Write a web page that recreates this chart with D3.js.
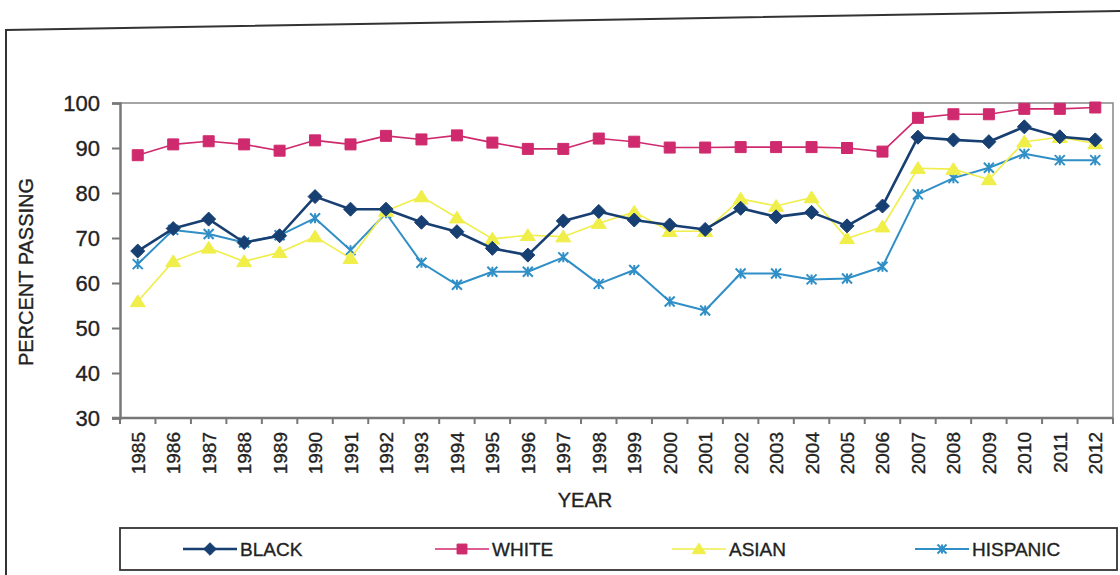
<!DOCTYPE html>
<html><head><meta charset="utf-8">
<script src="https://cdn.jsdelivr.net/npm/d3@7"></script>
<style>
html,body{margin:0;padding:0;background:#fff;}
svg{display:block;font-family:"Liberation Sans",Arial,sans-serif;}
svg text{stroke:#222;stroke-width:0.35px;}
</style></head>
<body>
<svg id="chart" width="1120" height="575"></svg>
<script>
const years = ["1985","1986","1987","1988","1989","1990","1991","1992","1993","1994","1995","1996","1997","1998","1999","2000","2001","2002","2003","2004","2005","2006","2007","2008","2009","2010","2011","2012"];
const black    = [67.1,72.1,74.2,69.0,70.5,79.2,76.4,76.4,73.5,71.4,67.7,66.2,73.8,75.9,74.0,72.9,71.9,76.6,74.7,75.7,72.7,77.1,92.4,91.8,91.4,94.7,92.5,91.8];
const white    = [88.4,90.8,91.5,90.8,89.4,91.7,90.8,92.7,91.9,92.8,91.2,89.8,89.8,92.1,91.4,90.1,90.1,90.2,90.2,90.2,90.0,89.2,96.7,97.5,97.5,98.7,98.7,99.0];
const asian    = [55.9,64.8,67.8,64.8,66.8,70.3,65.5,76.0,79.2,74.5,69.8,70.6,70.3,73.3,75.8,71.5,71.5,78.7,77.1,79.0,69.9,72.5,85.5,85.3,83.0,91.4,92.4,91.0];
const hispanic = [64.2,71.8,70.9,69.0,70.6,74.4,67.3,75.5,64.5,59.6,62.5,62.5,65.7,59.8,62.9,55.9,53.9,62.1,62.1,60.8,61.0,63.6,79.7,83.3,85.6,88.7,87.3,87.3];
const yTicks = [30,40,50,60,70,80,90,100];
const seriesNames = ["BLACK","WHITE","ASIAN","HISPANIC"];

(function(){
const svg = d3.select("#chart");
const pL = 120, pR = 1113, pT = 103, pB = 418;

const x = d3.scaleBand().domain(years).range([pL, pR]);
const y = d3.scaleLinear().domain([30,100]).range([pB, pT]);

// outer scanned frame
svg.append("path").attr("d", "M6,575 L6,30 L1120,11")
  .attr("fill","none").attr("stroke","#333").attr("stroke-width",2);

// plot frame
svg.append("path").attr("d", `M${pL},${pT} L${pR},${pT} L${pR},${pB}`)
  .attr("fill","none").attr("stroke","#888").attr("stroke-width",1.5);

// y axis
const yAxis = svg.append("g").attr("transform",`translate(${pL},0)`)
  .call(d3.axisLeft(y).tickValues(yTicks).tickSize(8).tickPadding(12).tickFormat(d3.format("d")));
yAxis.select(".domain").attr("stroke","#777").attr("stroke-width",2.5);
yAxis.selectAll(".tick line").attr("stroke","#777").attr("stroke-width",2);
yAxis.selectAll(".tick text").attr("font-size",22).attr("fill","#222")
  .attr("font-family","Liberation Sans, Arial, sans-serif");

// x axis
const xAxisG = svg.append("g").attr("transform",`translate(0,${pB})`);
xAxisG.append("line").attr("x1",pL-8).attr("x2",pR).attr("y1",0).attr("y2",0)
  .attr("stroke","#777").attr("stroke-width",2.5);
const bounds = years.map(d => x(d)).concat([pR]);
xAxisG.selectAll("line.tk").data(bounds).enter().append("line").attr("class","tk")
  .attr("x1",d=>d).attr("x2",d=>d).attr("y1",0).attr("y2",6)
  .attr("stroke","#777").attr("stroke-width",2);
xAxisG.selectAll("text.yl").data(years).enter().append("text").attr("class","yl")
  .attr("transform", d => `translate(${x(d)+x.bandwidth()/2+7},14) rotate(-90)`)
  .attr("text-anchor","end").attr("font-size",19).attr("fill","#222").text(d=>d);

// axis titles
svg.append("text").attr("x",585).attr("y",507).attr("text-anchor","middle")
  .attr("font-size",20).attr("fill","#222").text("YEAR");
svg.append("text").attr("transform","translate(33,272) rotate(-90)").attr("text-anchor","middle")
  .attr("font-size",20).attr("fill","#222").text("PERCENT PASSING");

function markerPath(type, s) {
  if (type === "diamond") return `M0,${-s}L${s},0L0,${s}L${-s},0Z`;
  if (type === "square") return `M${-s},${-s}H${s}V${s}H${-s}Z`;
  if (type === "triangle") return `M0,${-s}L${s*1.15},${s*0.8}L${-s*1.15},${s*0.8}Z`;
  if (type === "star") return `M${-s},${-s}L${s},${s}M${-s},${s}L${s},${-s}M0,${-s}L0,${s}`;
}

const series = [
  {name:"HISPANIC", values:hispanic, color:"#2f8fc6", width:2, marker:"star", ms:5},
  {name:"ASIAN", values:asian, color:"#f0ee48", width:1.6, marker:"triangle", ms:6.5},
  {name:"WHITE", values:white, color:"#cf2a6e", width:1.6, marker:"square", ms:5.5},
  {name:"BLACK", values:black, color:"#173f72", width:2.6, marker:"diamond", ms:7}
];

const line = d3.line().x((d,i)=>x(years[i])+x.bandwidth()/2).y(d=>y(d));

series.forEach(s => {
  const g = svg.append("g");
  g.append("path").datum(s.values).attr("d", line)
    .attr("fill","none").attr("stroke",s.color).attr("stroke-width",s.width)
    .attr("stroke-linejoin","round");
  g.selectAll("path.m").data(s.values).enter().append("path").attr("class","m")
    .attr("transform",(d,i)=>`translate(${x(years[i])+x.bandwidth()/2},${y(d)})`)
    .attr("d", markerPath(s.marker, s.ms))
    .attr("fill", s.marker==="star" ? "none" : s.color)
    .attr("stroke", s.color).attr("stroke-width", s.marker==="star" ? 2 : 1);
});

// legend
const lg = svg.append("g");
lg.append("rect").attr("x",120).attr("y",528).attr("width",997).attr("height",42)
  .attr("fill","none").attr("stroke","#333").attr("stroke-width",1.8);
const legendItems = [
  {name:seriesNames[0], s:series[3], x0:183},
  {name:seriesNames[1], s:series[2], x0:435},
  {name:seriesNames[2], s:series[1], x0:672},
  {name:seriesNames[3], s:series[0], x0:915}
];
legendItems.forEach(it => {
  const ly = 549;
  lg.append("line").attr("x1",it.x0).attr("x2",it.x0+54).attr("y1",ly).attr("y2",ly)
    .attr("stroke",it.s.color).attr("stroke-width",it.s.width);
  lg.append("path").attr("transform",`translate(${it.x0+27},${ly})`)
    .attr("d", markerPath(it.s.marker, it.s.ms*0.9))
    .attr("fill", it.s.marker==="star" ? "none" : it.s.color)
    .attr("stroke", it.s.color).attr("stroke-width", it.s.marker==="star" ? 2 : 1);
  lg.append("text").attr("x",it.x0+57).attr("y",ly+7).attr("font-size",19)
    .attr("fill","#222").text(it.name);
});
})();
</script>
</body></html>
